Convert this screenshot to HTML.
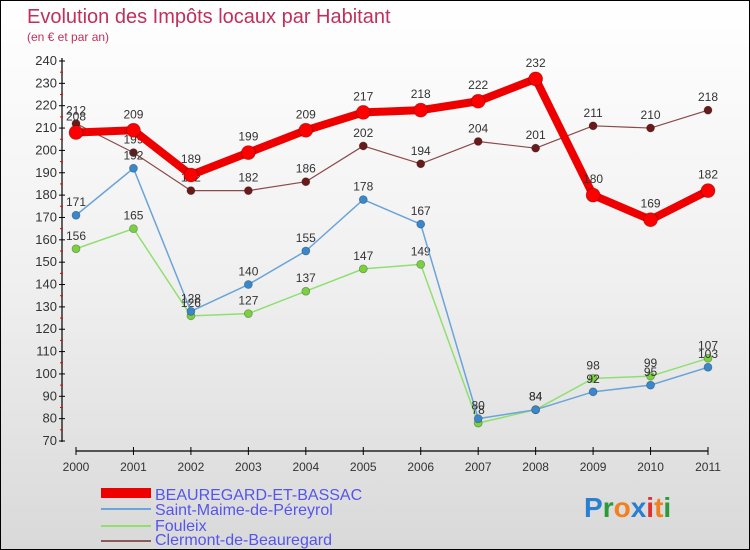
<!DOCTYPE html>
<html><head><meta charset="utf-8"><style>
body{margin:0}
#c{width:750px;height:550px;position:relative;overflow:hidden;box-sizing:border-box;border:1px solid #000;background:linear-gradient(#fff 0%,#f0f0f0 50%,#d9d9d9 100%);font-family:"Liberation Sans",sans-serif}
</style></head><body>
<div id="c">
<svg id="s" width="750" height="550" style="position:absolute;left:0;top:0">
<text x="26" y="22" font-size="20" fill="#c0305a">Evolution des Impôts locaux par Habitant</text>
<text x="26" y="40" font-size="12" fill="#c0305a">(en € et par an)</text>
<g id="axes"></g><g id="series"></g>
<g font-size="16" fill="#5555ee">
<rect x="100" y="487" width="50" height="10" fill="#e00"/>
<text x="154" y="499">BEAUREGARD-ET-BASSAC</text>
<rect x="100" y="507" width="50" height="2" fill="#6aa4d8"/>
<text x="154" y="514">Saint-Maime-de-Péreyrol</text>
<rect x="100" y="524" width="50" height="2" fill="#90e070"/>
<text x="154" y="530">Fouleix</text>
<rect x="100" y="539" width="50" height="2" fill="#8b5a5a"/>
<text x="154" y="544">Clermont-de-Beauregard</text>
</g>
<g font-size="28" font-weight="bold">
<text x="583" y="516"><tspan fill="#2a7fd0">P</tspan><tspan fill="#2a9a3a">r</tspan><tspan fill="#f08020">o</tspan><tspan fill="#2a7fd0">x</tspan><tspan fill="#e03030">i</tspan><tspan fill="#f08020">t</tspan><tspan fill="#2a9a3a">i</tspan></text>
</g>
</svg>
</div>
<script>
const years=["2000","2001","2002","2003","2004","2005","2006","2007","2008","2009","2010","2011"];
const yTicks=[70,80,90,100,110,120,130,140,150,160,170,180,190,200,210,220,230,240];
const beauregard=[208,209,189,199,209,217,218,222,232,180,169,182];
const saintMaime=[171,192,128,140,155,178,167,80,84,92,95,103];
const fouleix=[156,165,126,127,137,147,149,78,84,98,99,107];
const clermont=[212,199,182,182,186,202,194,204,201,211,210,218];
const NS="http://www.w3.org/2000/svg";
const X0=75,X1=707,Y70=440,Y240=60;
const xs=i=>X0+i*(X1-X0)/(years.length-1);
const ys=v=>Y70-(v-70)*(Y70-Y240)/170;
function mk(t,a,p){const e=document.createElementNS(NS,t);for(const k in a)e.setAttribute(k,a[k]);p.appendChild(e);return e;}
const ax=document.getElementById('axes');
let e=mk('line',{x1:61,y1:57,x2:61,y2:441,stroke:'#000','stroke-width':1.2},ax);

e=mk('line',{x1:75,y1:450,x2:707,y2:450,stroke:'#000','stroke-width':1.2},ax);

yTicks.forEach((v,i)=>{const y=ys(v);
 mk('line',{x1:58,y1:y,x2:64,y2:y,stroke:'#000'},ax);
 if(i<yTicks.length-1)mk('line',{x1:59,y1:ys(v+5),x2:62,y2:ys(v+5),stroke:'#e00'},ax);
 const t=mk('text',{x:56,y:y+4,'text-anchor':'end','font-size':13,fill:'#333'},ax);t.textContent=v;
 });
years.forEach((yr,i)=>{const x=xs(i);
 mk('line',{x1:x,y1:446,x2:x,y2:454,stroke:'#000'},ax);
 const t=mk('text',{x:x,y:470,'text-anchor':'middle','font-size':12,fill:'#333'},ax);t.textContent=yr;
 });
const sg=document.getElementById('series');
function draw(name,vals,color,w,r,fill){
 const g=mk('g',{},sg);
 
 const p=mk('polyline',{points:vals.map((v,i)=>xs(i)+','+ys(v)).join(' '),fill:'none',stroke:color,'stroke-width':w,'stroke-linejoin':'round'},g);
 
 vals.forEach((v,i)=>{const c=mk('circle',{cx:xs(i),cy:ys(v),r:r,fill:fill,stroke:'rgba(0,0,0,0.3)','stroke-width':0.8},g);
  
  const t=mk('text',{x:xs(i),y:ys(v)-9-(r>5?3:0),'text-anchor':'middle','font-size':12,fill:'#333'},g);t.textContent=v;
  });
}
draw('clermont',clermont,'#8b4a4a',1.2,4,'#6a1a1a');
draw('fouleix',fouleix,'#90e070',1.5,4,'#7ad040');
draw('saint-maime',saintMaime,'#6aa4d8',1.5,4,'#3a88cc');
draw('beauregard',beauregard,'#e00',8,7,'#f00');
</script>
</body></html>
